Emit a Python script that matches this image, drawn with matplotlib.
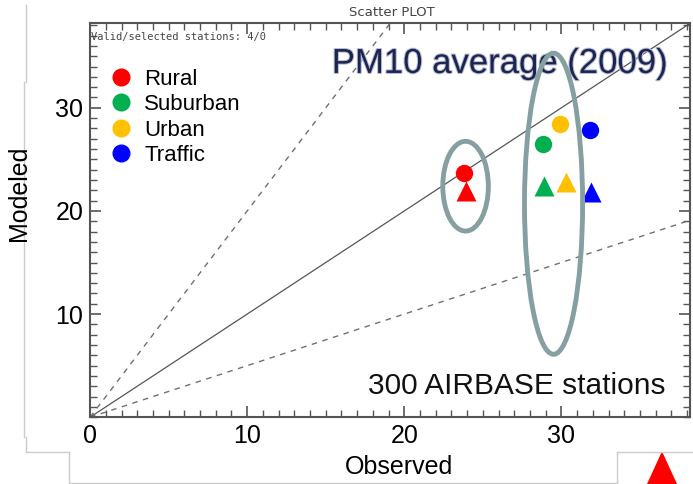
import numpy as np
import matplotlib.pyplot as plt
from matplotlib.patches import Ellipse, Polygon
from matplotlib.lines import Line2D
import matplotlib.patheffects as pe

plt.rcParams['font.family'] = ['Liberation Sans', 'DejaVu Sans']

# station types and colours
tipos = ['Rural', 'Suburban', 'Urban', 'Traffic']
colores = ['#ff0000', '#00b050', '#ffc000', '#0000ff']

# observed / modeled, circles and triangles
obs_circ = [23.8, 28.8, 29.9, 31.8]
mod_circ = [23.7, 26.5, 28.4, 27.8]
obs_tri = [23.9, 28.9, 30.3, 31.9]
mod_tri = [21.9, 22.4, 22.8, 21.8]

lim = 38.2
ticks = [0, 10, 20, 30]

fig = plt.figure(figsize=(6.93, 4.84), dpi=100)
ax = fig.add_axes([0.130, 0.138, 0.866, 0.814])
ax.set_xlim(0, lim)
ax.set_ylim(0, lim)

gris = '#555555'
# lineas 1:1, 2:1 y 1:2
xx = np.array([0, lim])
ax.plot(xx, xx, color='#555555', lw=0.9)
ax.plot(xx, 2 * xx, color='#707070', lw=1.0, ls=(0, (4, 4)))
ax.plot(xx, 0.5 * xx, color='#707070', lw=1.0, ls=(0, (4, 4)))

# puntos
for i in range(len(tipos)):
    ax.plot(obs_circ[i], mod_circ[i], 'o', color=colores[i], ms=12.5, mec='none', zorder=5)
    ax.plot(obs_tri[i], mod_tri[i], '^', color=colores[i], ms=14, mec='none', zorder=5)

# elipses
ax.add_patch(Ellipse((23.9, 22.4), 2.9, 8.7, fill=False, ec='#86a0a2', lw=3.5, zorder=6))
ax.add_patch(Ellipse((29.5, 20.7), 3.7, 29.2, fill=False, ec='#86a0a2', lw=3.5, zorder=6))

# ejes y ticks
for s in ax.spines.values():
    s.set_color(gris)
    s.set_linewidth(1.5)
ax.set_xticks(ticks)
ax.set_yticks(ticks[1:])
ax.set_xticks(np.arange(0, 39, 1), minor=True)
ax.set_yticks(np.arange(0, 39, 1), minor=True)
ax.tick_params(which='both', direction='in', top=True, right=True, color=gris)
ax.tick_params(which='major', length=8, width=1.2, labelsize=18, pad=5)
ax.tick_params(which='minor', length=5, width=1.0)

# leyenda
hand = [Line2D([], [], marker='o', ls='none', color=c, ms=13, mec='none') for c in colores]
ax.legend(hand, tipos, loc='upper left', bbox_to_anchor=(0.018, 0.907), frameon=False,
          fontsize=16, handletextpad=0.55, labelspacing=0.2, handlelength=1.0,
          borderaxespad=0.0)

# textos
ax.text(0.002, 0.977, 'Valid/selected stations: 4/0', transform=ax.transAxes,
        fontsize=7.5, family='DejaVu Sans Mono', color='#444444', va='top', ha='left')
fig.text(392 / 693, 1 - 13 / 484, 'Scatter PLOT', fontsize=9.5, family='DejaVu Sans',
         color='#444444', ha='center', va='center')
ax.text(26.1, 34.3, 'PM10 average (2009)', fontsize=25, color='#1c2450',
        ha='center', va='center',
        path_effects=[pe.withStroke(linewidth=1.5, foreground='#b8bcd4')])
ax.text(0.958, 0.08, '300 AIRBASE stations', transform=ax.transAxes, fontsize=21.5,
        ha='right', va='center', color='#111111')
fig.text(399 / 693, 1 - 467 / 484, 'Observed', fontsize=18, ha='center', va='center')
fig.text(19 / 693, 1 - 193 / 484, 'Modeled', fontsize=18, ha='center', va='center',
         rotation=90)

# marcos de la diapositiva
W, H = 693, 484
def px(x, y):
    return (x / W, 1 - y / H)
borde = '#cccccc'
segs = [[(25.7, 5), (25.7, 82)], [(24.3, 82), (24.3, 437)], [(25.7, 437), (25.7, 452)],
        [(25.7, 452), (69, 452)], [(69, 452), (69, 483)], [(69, 483), (617, 483)],
        [(617, 483), (617, 452)], [(617, 452), (693, 452)]]
for sg in segs:
    (x0, y0), (x1, y1) = px(*sg[0]), px(*sg[1])
    fig.add_artist(Line2D([x0, x1], [y0, y1], color=borde, lw=1.0))
tri = Polygon([px(645, 490), px(662, 453), px(679, 490)], closed=True,
              color='#ff0000', transform=fig.transFigure)
fig.add_artist(tri)

plt.savefig('out.png', dpi=100)
